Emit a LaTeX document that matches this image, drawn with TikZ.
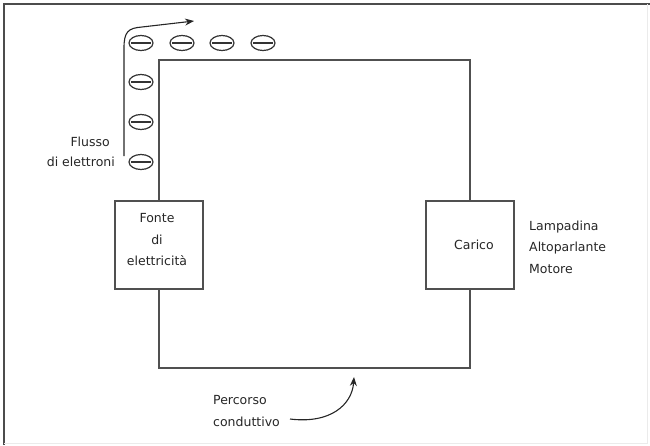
\documentclass[tikz,border=0pt]{standalone}
\usepackage{fontspec}
\setmainfont{DejaVu Sans}
\usetikzlibrary{arrows.meta,shapes.geometric}
\definecolor{wiregray}{HTML}{505050}
\definecolor{textgray}{HTML}{262626}
\begin{document}
\begin{tikzpicture}[x=1pt,y=-1pt,
 wire/.style={draw=wiregray, line width=1.7pt},
 comp/.style={draw=wiregray, line width=1.7pt, fill=white, minimum width=88pt, minimum height=88pt, inner sep=0pt, text=textgray, font=\fontsize{12.5}{21}\selectfont},
 electron/.style={ellipse, draw=black!80, line width=1.2pt, minimum width=24pt, minimum height=15pt, inner sep=0pt},
 lbl/.style={text=textgray, font=\fontsize{12.5}{21.5}\selectfont, inner sep=0pt},
 flow/.style={draw=black!85, line width=1.1pt, -{Stealth[length=9pt,width=7pt]}}
]
\useasboundingbox (0,0) rectangle (650,445);
% frame
\draw[black!70, line width=1.3pt] (4,445) -- (4,4) -- (650,4);
\draw[black!8, line width=0.8pt] (647,4) -- (647,443) -- (4,443);

% corners of the circuit
\coordinate (tl) at (159,60);
\coordinate (tr) at (470,60);
\coordinate (br) at (470,368);
\coordinate (bl) at (159,368);

% components
\node[comp] (src) at (159,245) {};
\node[lbl, align=center] (srctxt) at (157,240) {Fonte\\di\\elettricità};
\node[comp] (load) at (470,245) {\hspace*{8pt}Carico};

% wires
\draw[wire] (src.north) -- (tl) -- (tr) -- (load.north);
\draw[wire] (src.south) -- (bl) -- (br) -- (load.south);

% electrons
\node[electron] (e1) at (141,43) {};
\node[electron] (e2) at (182,43) {};
\node[electron] (e3) at (222,43) {};
\node[electron] (e4) at (263,43) {};
\node[electron] (e5) at (141,82) {};
\node[electron] (e6) at (141,122) {};
\node[electron] (e7) at (141,162) {};
\foreach \e in {e1,e2,e3,e4,e5,e6,e7}
  \draw[black!80, line width=1.1pt] ([xshift=2.5pt]\e.west) -- ([xshift=-2.5pt]\e.east);

% electron flow arrow
\coordinate (fs) at (124,156);
\coordinate (fa) at (124,48);
\coordinate (fb) at (142,27);
\coordinate (fe) at (194,21);
\draw[flow] (fs) -- (fa) .. controls (124,32) and (128,28) .. (fb) -- (fe);

% labels
\node[lbl, anchor=east] (flusso) at (110,142) {Flusso};
\node[lbl, anchor=east] (dielet) at (115,162) {di elettroni};
\node[lbl, anchor=west, align=left] (loads) at (529,247) {Lampadina\\Altoparlante\\Motore};
\node[lbl, anchor=west, align=left] (perc) at (213,411) {Percorso\\conduttivo};

% conductive path arrow
\coordinate (ps) at (290,419);
\coordinate (pe) at (354,377);
\draw[flow] (ps) .. controls (330,424) and (352,405) .. (pe);
\end{tikzpicture}
\end{document}
